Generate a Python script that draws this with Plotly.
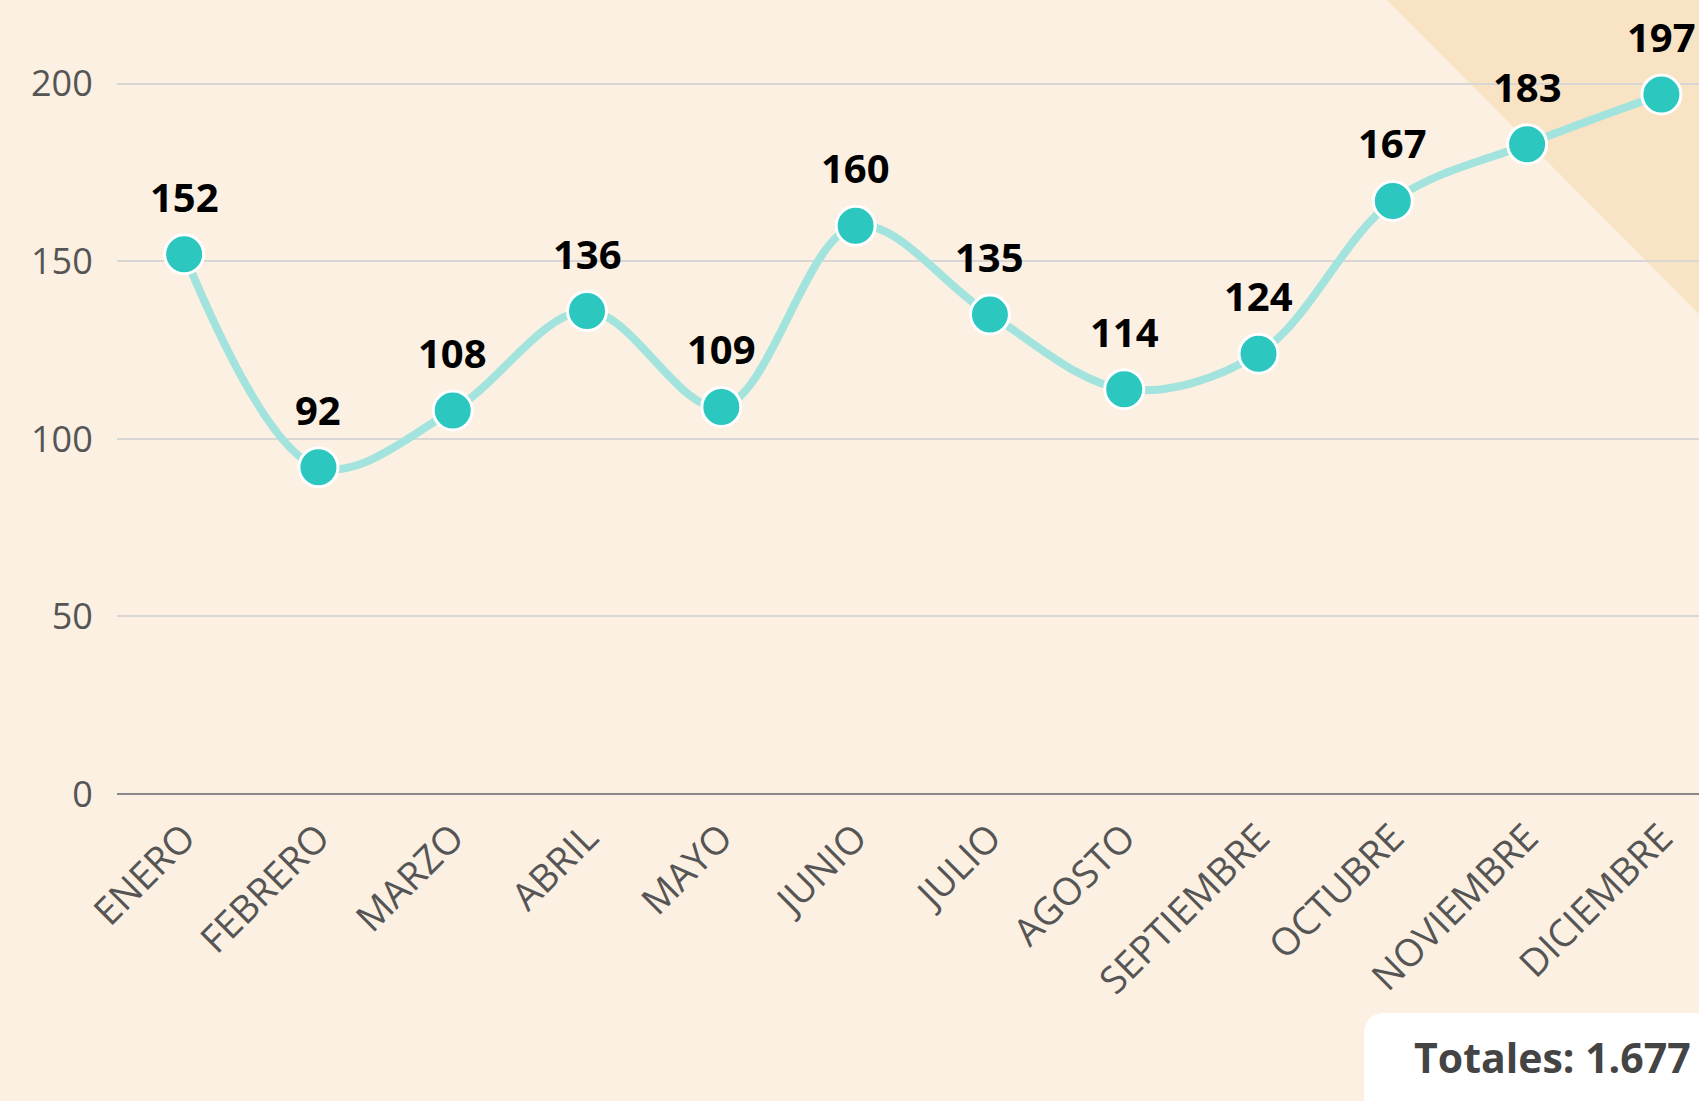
import plotly.graph_objects as go

months = ["ENERO", "FEBRERO", "MARZO", "ABRIL", "MAYO", "JUNIO", "JULIO",
          "AGOSTO", "SEPTIEMBRE", "OCTUBRE", "NOVIEMBRE", "DICIEMBRE"]
values = [152, 92, 108, 136, 109, 160, 135, 114, 124, 167, 183, 197]
y_ticks = [0, 50, 100, 150, 200]
total_label = "Totales: 1.677"

W, H = 1699, 1101
ML, MR, MT, MB = 117, 0, 0, 307
PW, PH = W - ML - MR, H - MT - MB

def px(x):
    return (x - ML) / PW

def py(y):
    return (H - MB - y) / PH

BG = "#fcf0e2"
FONT = "Open Sans"
xs = list(range(len(months)))

fig = go.Figure()
fig.add_trace(go.Scatter(
    x=xs, y=values, mode="lines",
    line=dict(color="#a2e4dd", width=8, shape="spline"),
    hoverinfo="skip", showlegend=False))
fig.add_trace(go.Scatter(
    x=xs, y=values, mode="markers",
    marker=dict(size=39, color="#2cc7bf", line=dict(color="white", width=3)),
    showlegend=False))

for x, v in zip(xs, values):
    fig.add_annotation(x=x, y=v, text=str(v), showarrow=False, yshift=58,
                       font=dict(family=FONT, size=40, color="#000000", weight="bold"))

# top-right triangle
fig.add_shape(type="path", xref="paper", yref="paper", layer="below",
              path=f"M {px(1387)} {py(0)} L {px(1699)} {py(0)} L {px(1699)} {py(314)} Z",
              fillcolor="#f8e3c4", line=dict(width=0))

# totals box (rounded)
x0, y0, x1, y1, r = 1364, 1013, 1720, 1120, 22
path = (f"M {px(x0)} {py(y1)} L {px(x0)} {py(y0 + r)} "
        f"Q {px(x0)} {py(y0)} {px(x0 + r)} {py(y0)} "
        f"L {px(x1)} {py(y0)} L {px(x1)} {py(y1)} Z")
fig.add_shape(type="path", xref="paper", yref="paper", path=path,
              fillcolor="white", line=dict(width=0))
fig.add_annotation(xref="paper", yref="paper", x=px(1693), y=py(1057),
                   xanchor="right", yanchor="middle", showarrow=False,
                   text=total_label,
                   font=dict(family=FONT, size=41, color="#444444", weight="bold"))

fig.update_layout(
    width=W, height=H,
    margin=dict(l=ML, r=MR, t=MT, b=MB, pad=0),
    paper_bgcolor=BG, plot_bgcolor=BG,
    xaxis=dict(range=[-0.5, 11.28], tickmode="array", tickvals=xs, ticktext=months,
               tickangle=-45, showgrid=False, zeroline=False, showline=False,
               ticks="outside", ticklen=5, tickcolor="rgba(0,0,0,0)",
               tickfont=dict(family=FONT, size=38, color="#555555")),
    yaxis=dict(range=[0, 223.6], tickmode="array", tickvals=y_ticks,
               showgrid=True, gridcolor="#d9d7d3", gridwidth=1.5,
               zeroline=True, zerolinecolor="#8a8a8a", zerolinewidth=2,
               showline=False,
               ticks="outside", ticklen=16, tickcolor="rgba(0,0,0,0)",
               tickfont=dict(family=FONT, size=36, color="#555555")),
)

fig.write_html("out.html", config={"displayModeBar": False},
               post_script="document.body.style.margin='0';document.body.style.background='#fcf0e2';")
